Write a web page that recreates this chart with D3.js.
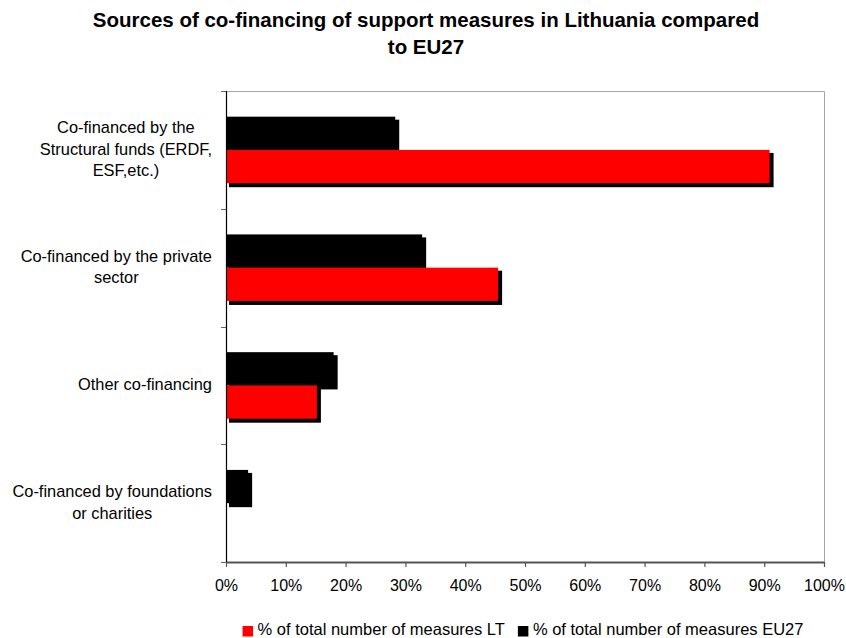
<!DOCTYPE html>
<html>
<head>
<meta charset="utf-8">
<script src="https://cdn.jsdelivr.net/npm/d3@7"></script>
<style>
  html, body { margin: 0; padding: 0; background: #ffffff; }
  svg { display: block; }
  text { font-family: "Liberation Sans", Arial, Helvetica, sans-serif; fill: #000; }
</style>
</head>
<body>
<svg id="chart" width="846" height="638"></svg>
<script>
// Chart data
const titleLines = ["Sources of co-financing of support measures in Lithuania compared", "to EU27"];
const categories = [
  "Co-financed by the Structural funds (ERDF, ESF,etc.)",
  "Co-financed by the private sector",
  "Other co-financing",
  "Co-financed by foundations or charities"
];
const categoryLines = [
  ["Co-financed by the", "Structural funds (ERDF,", "ESF,etc.)"],
  ["Co-financed by the private", "sector"],
  ["Other co-financing"],
  ["Co-financed by foundations", "or charities"]
];
const seriesNames = ["% of total number of measures LT", "% of total number of measures EU27"];
const valuesLT = [90.9, 45.5, 15.2, 0];
const valuesEU27 = [28.3, 32.8, 18.0, 3.7];
const xTicks = [0, 10, 20, 30, 40, 50, 60, 70, 80, 90, 100];

// Layout
const W = 846, H = 638;
const plot = { left: 226, right: 824, top: 91, bottom: 562 };
const colors = { LT: "#ff0000", EU27: "#000000" };

const svg = d3.select("#chart");

const x = d3.scaleLinear().domain([0, 100]).range([plot.left, plot.right]);
const y = d3.scaleBand().domain(categories).range([plot.top, plot.bottom]).paddingInner(0).paddingOuter(0);
const bw = y.bandwidth();
// EU27 bar sits above the LT bar inside each category band
const ySub = d3.scaleBand().domain(["EU27", "LT"]).range([bw * 0.218, bw * 0.783]).padding(0);

const rows = categories.map((c, i) => ({ cat: c, LT: valuesLT[i], EU27: valuesEU27[i] }));
const bars = [];
rows.forEach(r => {
  ["EU27", "LT"].forEach(s => bars.push({ cat: r.cat, series: s, value: r[s] }));
});
const drawn = bars.filter(d => d.value > 0);

// Title
svg.append("g").selectAll("text")
  .data(titleLines)
  .join("text")
  .attr("x", 426)
  .attr("y", (d, i) => 27 + i * 26.5)
  .attr("text-anchor", "middle")
  .style("font-size", "20.5px")
  .style("font-weight", "bold")
  .text(d => d);

// Plot frame (top and right edges)
svg.append("path")
  .attr("d", `M${plot.left},${plot.top + 0.5}H${plot.right + 0.5}V${plot.bottom}`)
  .attr("fill", "none")
  .attr("stroke", "#a6a6a6")
  .attr("stroke-width", 1);

// Drop shadows behind the bars
svg.append("g").selectAll("rect")
  .data(drawn)
  .join("rect")
  .attr("x", x(0) + 3)
  .attr("y", d => y(d.cat) + ySub(d.series) + 3)
  .attr("width", d => x(d.value) - x(0) + 1)
  .attr("height", ySub.bandwidth() + 1)
  .attr("fill", "#000");

// Bars
svg.append("g").selectAll("rect")
  .data(drawn)
  .join("rect")
  .attr("x", x(0))
  .attr("y", d => y(d.cat) + ySub(d.series))
  .attr("width", d => x(d.value) - x(0))
  .attr("height", ySub.bandwidth())
  .attr("fill", d => colors[d.series]);

// Bottom axis
const xAxis = d3.axisBottom(x)
  .tickValues(xTicks)
  .tickSize(5)
  .tickSizeOuter(0)
  .tickFormat(d => d + "%");
const gx = svg.append("g")
  .attr("transform", `translate(0,${plot.bottom})`)
  .call(xAxis);
gx.select(".domain").attr("stroke", "#555").attr("stroke-width", 2);
gx.selectAll(".tick line").attr("stroke", "#555").attr("stroke-width", 1.2);
gx.selectAll(".tick text")
  .attr("y", 29)
  .attr("dy", null)
  .attr("fill", "#000")
  .style("font-size", "16px")
  .style("font-family", "'Liberation Sans', Arial, sans-serif");

// Left axis: line plus ticks at category boundaries
const boundaries = categories.map(c => y(c)).concat([plot.bottom]);
svg.append("g").selectAll("line")
  .data(boundaries)
  .join("line")
  .attr("x1", plot.left - 5)
  .attr("x2", plot.left)
  .attr("y1", d => Math.round(d) + 0.5)
  .attr("y2", d => Math.round(d) + 0.5)
  .attr("stroke", "#666")
  .attr("stroke-width", 1);
svg.append("line")
  .attr("x1", plot.left + 0.5).attr("x2", plot.left + 0.5)
  .attr("y1", plot.top).attr("y2", plot.bottom)
  .attr("stroke", "#000").attr("stroke-width", 1.2);

// Category labels: right-aligned block, lines centred within the block
const labelRight = 212;
const lineGap = 21.5;
const labelG = svg.append("g").style("font-size", "16.4px");
categories.forEach((c, i) => {
  const lines = categoryLines[i];
  const g = labelG.append("g");
  const texts = g.selectAll("text")
    .data(lines)
    .join("text")
    .attr("y", (d, j) => y(c) + bw / 2 + 5 + (j - (lines.length - 1) / 2) * lineGap)
    .attr("text-anchor", "middle")
    .text(d => d);
  let maxW = 0;
  texts.each(function () { maxW = Math.max(maxW, this.getComputedTextLength()); });
  texts.attr("x", labelRight - maxW / 2);
});

// Legend
const legend = svg.append("g").style("font-size", "16.5px");
const items = [{ name: seriesNames[0], color: colors.LT }, { name: seriesNames[1], color: colors.EU27 }];
const sq = 10.5, sqGap = 4.5, itemGap = 13;
let cursor = 0;
const itemG = legend.selectAll("g").data(items).join("g");
itemG.append("rect")
  .attr("width", sq).attr("height", sq)
  .attr("y", 626)
  .attr("fill", d => d.color);
itemG.append("text")
  .attr("x", sq + sqGap)
  .attr("y", 634.5)
  .text(d => d.name);
itemG.each(function () {
  const tw = d3.select(this).select("text").node().getComputedTextLength();
  d3.select(this).attr("data-w", sq + sqGap + tw);
});
const widths = [];
itemG.each(function () { widths.push(+d3.select(this).attr("data-w")); });
const total = d3.sum(widths) + itemGap * (widths.length - 1);
cursor = 523 - total / 2;
itemG.attr("transform", (d, i) => {
  const t = `translate(${cursor},0)`;
  cursor += widths[i] + itemGap;
  return t;
});
</script>
</body>
</html>
